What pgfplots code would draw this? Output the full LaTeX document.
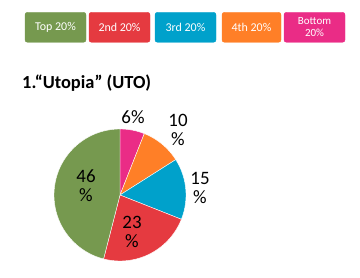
\documentclass[border=0pt]{standalone}
\usepackage{pgfplots}
\pgfplotsset{compat=1.18}
\usepackage{fontspec}
\setmainfont{Carlito}
\definecolor{cTop}{HTML}{76994F}
\definecolor{cSecond}{HTML}{E53A40}
\definecolor{cThird}{HTML}{00A1CB}
\definecolor{cFourth}{HTML}{FF7F27}
\definecolor{cBottom}{HTML}{EA2C86}
% start (cumulative %), share (%), colour
\newcommand\slice[3]{%
  \addplot[fill=#3, draw=white, line width=0.4pt, domain={90-3.6*(#1)}:{90-3.6*(#1+#2)}, samples=80, variable=\t]
    ({120+66*cos(t)},{83+66*sin(t)}) -- (axis cs:120,83) -- cycle;}
\begin{document}
\begin{tikzpicture}
\begin{axis}[
  width=360bp, height=278bp, scale only axis,
  xmin=0, xmax=360, ymin=0, ymax=278,
  hide axis, clip=false,
]
\path (axis cs:0,0) rectangle (axis cs:360,278);
% Bottom 20%, 4th 20%, 3rd 20%, 2nd 20%, Top 20%
\slice{0}{6}{cBottom}
\slice{6}{10}{cFourth}
\slice{16}{15}{cThird}
\slice{31}{23}{cSecond}
\slice{54}{46}{cTop}
% legend buttons
\tikzset{btn/.style={rounded corners=2.5bp, inner sep=0pt, text=white, font=\fontsize{12}{12}\selectfont, align=center}}
\filldraw[cTop, rounded corners=2.5bp] (axis cs:25,235.7) rectangle (axis cs:86,265.7);
\filldraw[cSecond, rounded corners=2.5bp] (axis cs:89,235.7) rectangle (axis cs:150,265.7);
\filldraw[cThird, rounded corners=2.5bp] (axis cs:155,235.7) rectangle (axis cs:216,265.7);
\filldraw[cFourth, rounded corners=2.5bp] (axis cs:222,235.7) rectangle (axis cs:281,265.7);
\filldraw[cBottom, rounded corners=2.5bp] (axis cs:284,235.7) rectangle (axis cs:345,265.7);
\node[btn] at (axis cs:55.5,250.7) {Top 20\%};
\node[btn] at (axis cs:119.5,250.7) {2nd 20\%};
\node[btn] at (axis cs:185.5,250.7) {3rd 20\%};
\node[btn] at (axis cs:251.5,250.7) {4th 20\%};
\node[btn, font=\fontsize{11}{12}\selectfont] at (axis cs:314.5,250.7) {Bottom\\20\%};
% title
\node[anchor=west, font=\bfseries\fontsize{18.5}{20}\selectfont, inner sep=0pt] at (axis cs:22,195) {1.“Utopia” (UTO)};
% slice labels
\tikzset{lab/.style={align=center, inner sep=0pt, font=\fontsize{19}{19}\selectfont}}
\node[lab] at (axis cs:133,161) {6\%};
\node[lab] at (axis cs:178,148.5) {10\\\%};
\node[lab] at (axis cs:200,90) {15\\\%};
\node[lab] at (axis cs:132,46.5) {23\\\%};
\node[lab] at (axis cs:86,92) {46\\\%};
\end{axis}
\end{tikzpicture}
\end{document}
